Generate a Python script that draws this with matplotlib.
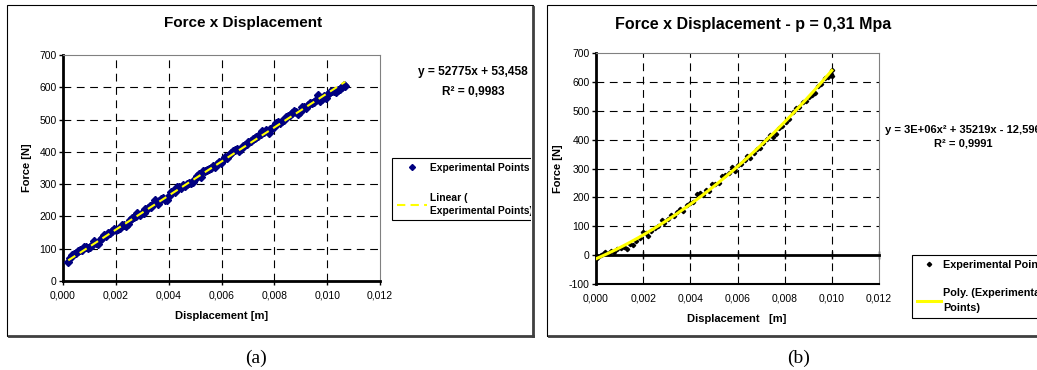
import numpy as np
import matplotlib.pyplot as plt
from matplotlib.patches import Rectangle
from matplotlib.lines import Line2D
from matplotlib.transforms import Bbox, TransformedBbox

plt.rcParams['font.family'] = ['Liberation Sans', 'DejaVu Sans']
plt.rcParams['axes.unicode_minus'] = False

W, H = 1037, 370

# ---------------- data (a) ----------------
disp_a_mm = [0.20, 0.28, 0.35, 0.42, 0.50, 0.58, 0.65, 0.72, 0.80, 0.88,
             0.95, 1.02, 1.10, 1.18, 1.25, 1.32, 1.40, 1.48, 1.55, 1.62,
             1.70, 1.78, 1.85, 1.92, 2.00, 2.08, 2.15, 2.22, 2.30, 2.38,
             2.45, 2.52, 2.60, 2.68, 2.75, 2.82, 2.90, 2.98, 3.05, 3.12,
             3.20, 3.28, 3.35, 3.42, 3.50, 3.58, 3.65, 3.72, 3.80, 3.88,
             3.95, 4.02, 4.10, 4.18, 4.25, 4.32, 4.40, 4.48, 4.55, 4.62,
             4.70, 4.78, 4.85, 4.92, 5.00, 5.08, 5.15, 5.22, 5.30, 5.38,
             5.45, 5.52, 5.60, 5.68, 5.75, 5.82, 5.90, 5.98, 6.05, 6.12,
             6.20, 6.28, 6.35, 6.42, 6.50, 6.58, 6.65, 6.72, 6.80, 6.88,
             6.95, 7.02, 7.10, 7.18, 7.25, 7.32, 7.40, 7.48, 7.55, 7.62,
             7.70, 7.78, 7.85, 7.92, 8.00, 8.08, 8.15, 8.22, 8.30, 8.38,
             8.45, 8.52, 8.60, 8.68, 8.75, 8.82, 8.90, 8.98, 9.05, 9.12,
             9.20, 9.28, 9.35, 9.42, 9.50, 9.58, 9.65, 9.72, 9.80, 9.88,
             9.95, 10.02, 10.10, 10.18, 10.25, 10.32, 10.40, 10.48, 10.55, 10.62,
             10.68]
force_a = [60, 72, 80, 85, 88, 92, 95, 97, 104, 105,
           102, 106, 112, 125, 118, 114, 128, 133, 143, 140,
           150, 148, 155, 162, 158, 160, 163, 172, 175, 170,
           178, 188, 195, 197, 200, 210, 205, 212, 210, 222,
           225, 232, 228, 238, 250, 240, 248, 255, 258, 252,
           250, 262, 275, 280, 275, 290, 292, 288, 297, 295,
           300, 303, 305, 308, 315, 325, 330, 322, 340, 342,
           345, 348, 350, 355, 352, 362, 368, 365, 375, 385,
           382, 390, 395, 402, 405, 408, 403, 410, 418, 422,
           425, 430, 435, 440, 442, 445, 448, 455, 465, 462,
           468, 458, 470, 475, 478, 488, 492, 490, 495, 500,
           508, 512, 515, 520, 528, 522, 518, 525, 538, 540,
           535, 545, 550, 552, 555, 560, 575, 558, 565, 572,
           568, 578, 585, 590, 588, 585, 592, 595, 600, 608,
           603]
lin_coef = [52775, 53.458]
eq_a = "y = 52775x + 53,458"
r2_a = "R\u00b2 = 0,9983"

# ---------------- data (b) ----------------
disp_b_mm = [0.00, 0.10, 0.20, 0.30, 0.40, 0.55, 0.65, 0.75, 0.90, 1.05,
             1.20, 1.32, 1.45, 1.55, 1.70, 1.85, 2.00, 2.10, 2.22, 2.35,
             2.50, 2.65, 2.78, 2.90, 3.05, 3.18, 3.30, 3.45, 3.58, 3.70,
             3.85, 3.98, 4.12, 4.28, 4.40, 4.52, 4.65, 4.80, 4.92, 5.05,
             5.20, 5.35, 5.48, 5.62, 5.78, 5.90, 6.02, 6.15, 6.30, 6.42,
             6.55, 6.70, 6.82, 6.95, 7.10, 7.25, 7.38, 7.50, 7.62, 7.78,
             7.90, 8.05, 8.20, 8.35, 8.50, 8.62, 8.78, 8.90, 9.05, 9.18,
             9.30, 9.42, 9.55, 9.70, 9.82, 9.95, 10.00, 10.00]
force_b = [-12, -8, 0, 5, 10, 8, 15, 12, 22, 25,
           28, 20, 40, 35, 50, 58, 80, 78, 65, 85,
           95, 100, 120, 110, 125, 140, 135, 150, 160, 152,
           172, 180, 185, 210, 215, 208, 225, 222, 245, 248,
           250, 275, 278, 285, 305, 290, 312, 315, 328, 345,
           335, 355, 368, 372, 390, 402, 415, 408, 420, 440,
           448, 462, 470, 495, 508, 512, 530, 535, 548, 555,
           560, 585, 592, 612, 618, 628, 640, 620]
poly_coef = [3e6, 35219, -12.596]
eq_b = "y = 3E+06x\u00b2 + 35219x - 12,596"
r2_b = "R\u00b2 = 0,9991"

x_ticks = [0.000, 0.002, 0.004, 0.006, 0.008, 0.010, 0.012]
x_tick_labels = ["0,000", "0,002", "0,004", "0,006", "0,008", "0,010", "0,012"]
y_ticks_a = [0, 100, 200, 300, 400, 500, 600, 700]
y_ticks_b = [-100, 0, 100, 200, 300, 400, 500, 600, 700]


def fig_box(l, t, r, b):
    return [l / W, 1 - b / H, (r - l) / W, (b - t) / H]


def fx(x):
    return x / W


def fy(y):
    return 1 - y / H


fig = plt.figure(figsize=(W / 100, H / 100), dpi=100)
fig.patch.set_facecolor('white')

# panel frames with shadow
for l, t, r, b in [(7, 5, 533, 336), (547, 5, 1045, 336)]:
    fig.add_artist(Rectangle((fx(l), fy(b)), fx(r - l), (b - t) / H,
                             transform=fig.transFigure, fill=False,
                             edgecolor='black', lw=0.8))
    fig.add_artist(Line2D([fx(l + 2), fx(r)], [fy(b), fy(b)], transform=fig.transFigure,
                          color='#404040', lw=2))
    fig.add_artist(Line2D([fx(r), fx(r)], [fy(t + 2), fy(b)], transform=fig.transFigure,
                          color='#404040', lw=2))


def style_axes(ax, yticks):
    ax.set_xlim(0, 0.012)
    ax.set_ylim(yticks[0], yticks[-1])
    ax.set_xticks(x_ticks)
    ax.set_xticklabels(x_tick_labels)
    ax.set_yticks(yticks)
    ax.tick_params(labelsize=7.5, length=3, width=1, direction='out', pad=1.5)
    ax.tick_params(axis='x', pad=3.5)
    ax.spines['left'].set_linewidth(2)
    ax.spines['bottom'].set_linewidth(2)
    for s in ['top', 'right']:
        ax.spines[s].set_color('#808080')
        ax.spines[s].set_linewidth(0.8)
    for gx in x_ticks[1:-1]:
        ax.axvline(gx, color='black', lw=0.8, dashes=(7, 5), zorder=1)
    for gy in yticks[1:-1]:
        if gy != 0:
            ax.axhline(gy, color='black', lw=0.8, dashes=(7, 5), zorder=1)


# ---------------- panel (a) ----------------
ax_a = fig.add_axes(fig_box(63, 55, 380, 281))
style_axes(ax_a, y_ticks_a)
xa = np.array(disp_a_mm) / 1000
pa, = ax_a.plot(xa, force_a, linestyle='none', marker='D', ms=3.8,
                color='#000080', zorder=3, label='Experimental Points')
xfa = np.linspace(xa.min(), xa.max(), 50)
la, = ax_a.plot(xfa, np.polyval(lin_coef, xfa), color='#FFFF00', lw=1.5,
                dashes=(4, 2.5), zorder=4, label='Linear (\nExperimental Points)')

fig.text(fx(243), fy(23), "Force x Displacement", ha='center', va='center',
         fontsize=11, fontweight='bold')
fig.text(fx(222), fy(316), "Displacement [m]", ha='center', va='center',
         fontsize=8, fontweight='bold')
fig.text(fx(27), fy(168), "Force [N]", ha='center', va='center', rotation=90,
         fontsize=8, fontweight='bold')
fig.text(fx(473), fy(72), eq_a, ha='center', va='center', fontsize=8.6, fontweight='bold')
fig.text(fx(473), fy(92), r2_a, ha='center', va='center', fontsize=8.6, fontweight='bold')

leg_a = fig.legend(handles=[pa, la], loc='upper left',
                   bbox_to_anchor=(fx(392), fy(158)), bbox_transform=fig.transFigure,
                   borderaxespad=0, fancybox=False, edgecolor='black', framealpha=1,
                   prop={'weight': 'bold', 'size': 7.4}, handlelength=3.0,
                   handletextpad=0.25, labelspacing=2.0, borderpad=0.45, markerscale=0.8)
leg_a.get_frame().set_linewidth(0.8)
clip_a = TransformedBbox(Bbox.from_extents(0, 0, fx(531), 1), fig.transFigure)
leg_a.legendPatch.set_clip_box(clip_a)
leg_a.legendPatch.set_clip_on(True)
for t in leg_a.get_texts():
    t.set_linespacing(1.3)
    t.set_clip_box(clip_a)
    t.set_clip_on(True)

# ---------------- panel (b) ----------------
ax_b = fig.add_axes(fig_box(596, 53, 879, 284))
style_axes(ax_b, y_ticks_b)
ax_b.spines['bottom'].set_position(('data', 0))
ax_b.tick_params(axis='x', direction='inout', length=6, pad=24.5)
ax_b.axhline(-100, color='black', lw=1.5, clip_on=False, zorder=5)
xb = np.array(disp_b_mm) / 1000
pb, = ax_b.plot(xb, force_b, linestyle='none', marker='D', ms=2.2,
                color='black', zorder=3, label='Experimental Points')
xfb = np.linspace(xb.min(), xb.max(), 100)
lb, = ax_b.plot(xfb, np.polyval(poly_coef, xfb), color='#FFFF00', lw=2.2,
                zorder=4, label='Poly. (Experimental\nPoints)')

fig.text(fx(753), fy(25), "Force x Displacement - p = 0,31 Mpa", ha='center', va='center',
         fontsize=11.5, fontweight='bold')
fig.text(fx(737), fy(319), "Displacement   [m]", ha='center', va='center',
         fontsize=8, fontweight='bold')
fig.text(fx(558), fy(169), "Force [N]", ha='center', va='center', rotation=90,
         fontsize=8, fontweight='bold')
fig.text(fx(885), fy(130), eq_b, ha='left', va='center', fontsize=8, fontweight='bold')
fig.text(fx(963), fy(143), r2_b, ha='center', va='center', fontsize=8, fontweight='bold')

leg_b = fig.legend(handles=[pb, lb], loc='upper left',
                   bbox_to_anchor=(fx(912), fy(255)), bbox_transform=fig.transFigure,
                   borderaxespad=0, fancybox=False, edgecolor='black', framealpha=1,
                   prop={'weight': 'bold', 'size': 7.8}, handlelength=2.2,
                   handletextpad=0.2, labelspacing=1.7, borderpad=0.45)
leg_b.get_frame().set_linewidth(0.8)
for t in leg_b.get_texts():
    t.set_linespacing(1.6)

# captions
fig.text(fx(256), fy(358), "(a)", ha='center', va='center', fontsize=14,
         family=['Liberation Serif', 'DejaVu Serif'])
fig.text(fx(799), fy(358), "(b)", ha='center', va='center', fontsize=14,
         family=['Liberation Serif', 'DejaVu Serif'])

fig.savefig('out.png', dpi=100, facecolor='white')
